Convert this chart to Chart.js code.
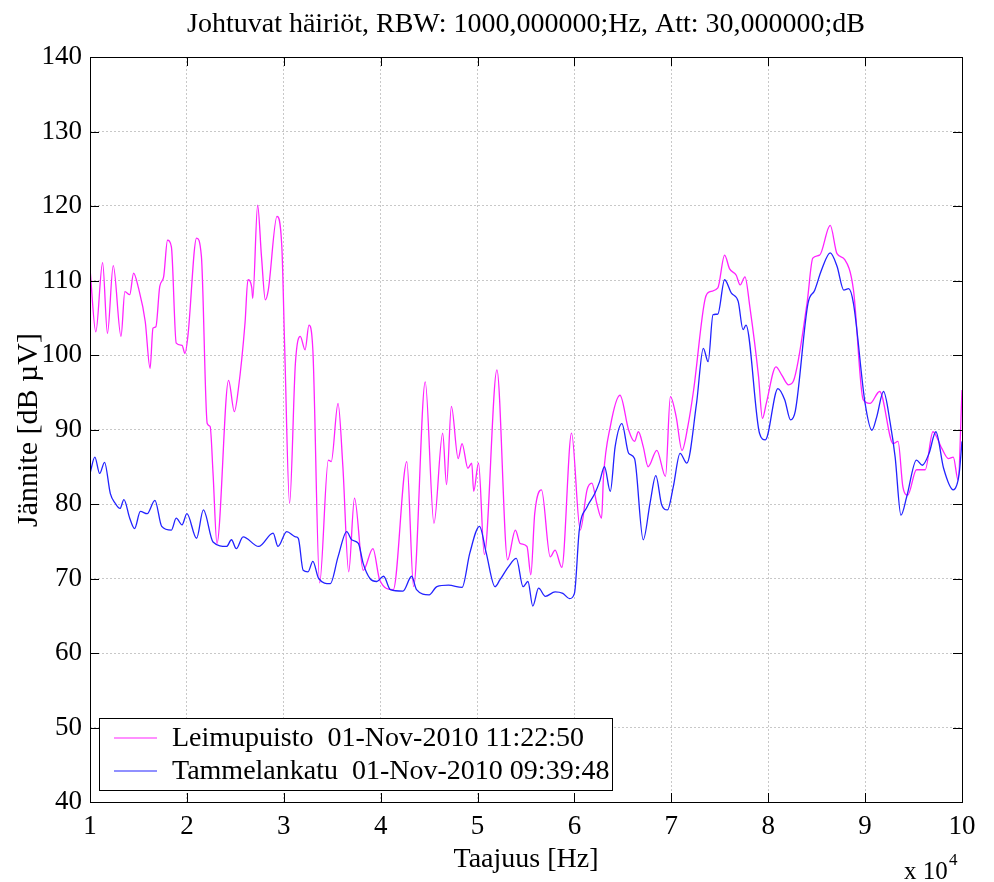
<!DOCTYPE html>
<html>
<head>
<meta charset="utf-8">
<script src="https://cdn.jsdelivr.net/npm/chart.js@4.4.1/dist/chart.umd.min.js"></script>
<style>
  html, body { margin: 0; padding: 0; background: #fff; }
  #wrap { width: 994px; height: 882px; position: relative; }
</style>
</head>
<body>
<div id="wrap"><canvas id="chart"></canvas></div>
<script>
// Frequencies in kHz (axis shows units of 10^4 Hz), levels in dB µV
const leimuFreq = [10.0, 10.6, 11.3, 11.8, 12.4, 13.2, 13.6, 14.1, 14.5, 15.0, 15.7, 16.2, 16.5, 16.8, 17.2, 17.6, 18.0, 18.4, 18.9, 19.5,
  19.8, 20.1, 21.0, 21.5, 22.1, 22.4, 22.7, 23.1, 24.3, 24.9, 25.3, 26.0, 26.3, 26.7, 26.8, 27.3, 27.7, 28.1, 28.4, 29.3,
  29.8, 30.1, 30.6, 31.2, 31.7, 32.2, 32.6, 33.0, 33.7, 34.6, 34.9, 35.6, 36.1, 36.7, 37.3, 38.2, 39.2, 39.9, 41.3, 42.7,
  43.4, 44.6, 45.5, 46.4, 46.8, 47.3, 48.0, 48.4, 49.0, 49.4, 49.6, 50.1, 50.7, 52.0, 53.1, 53.9, 54.4, 55.1, 55.5, 55.9,
  56.6, 57.5, 58.0, 58.7, 59.7, 60.6, 61.3, 61.8, 62.3, 62.8, 63.0, 63.7, 64.7, 65.6, 66.2, 66.6, 67.1, 67.6, 68.5, 69.4,
  69.9, 70.5, 71.1, 71.7, 72.3, 73.5, 74.0, 74.8, 75.5, 76.0, 76.7, 77.1, 77.6, 78.1, 79.0, 79.4, 79.8, 80.8, 81.4, 82.1,
  82.6, 84.0, 84.6, 85.3, 86.4, 87.1, 87.9, 88.8, 89.8, 90.5, 91.5, 92.9, 93.4, 93.9, 94.4, 95.3, 96.2, 97.0, 97.9, 98.6,
  99.1, 99.6, 100.0];
const leimuLevel = [111.6, 103.1, 112.4, 102.9, 112.0, 102.5, 108.5, 108.1, 111.0, 109.0, 104.5, 98.2, 103.6, 103.8, 109.2, 110.5, 115.4, 114.5, 101.6, 101.3,
  100.2, 102.5, 115.7, 113.2, 90.8, 90.4, 84.1, 74.7, 96.6, 92.4, 95.3, 104.3, 110.1, 109.0, 107.6, 120.1, 113.2, 107.4, 108.7, 118.6,
  114.5, 100.7, 80.1, 98.9, 102.5, 100.7, 104.0, 100.7, 69.4, 85.9, 85.7, 93.5, 85.0, 70.9, 80.8, 71.1, 74.0, 69.8, 68.5, 85.7,
  68.9, 96.4, 77.4, 89.5, 82.6, 93.1, 86.1, 88.1, 84.8, 85.5, 81.7, 85.5, 73.2, 98.0, 72.5, 76.5, 74.7, 74.3, 70.5, 78.7,
  81.9, 72.9, 73.8, 71.5, 89.5, 76.5, 81.9, 82.8, 80.1, 78.1, 83.7, 90.4, 94.6, 89.9, 88.4, 89.7, 87.7, 85.0, 87.2, 83.7,
  94.4, 91.7, 87.2, 90.4, 95.3, 107.6, 108.5, 109.0, 113.4, 111.6, 110.7, 109.4, 110.5, 106.5, 97.1, 91.5, 93.5, 98.4, 97.3, 96.0,
  96.5, 106.9, 113.0, 113.4, 117.4, 113.6, 112.8, 108.7, 94.0, 93.5, 95.1, 88.1, 88.4, 82.3, 81.2, 84.6, 84.6, 89.7, 87.5, 86.1,
  86.3, 83.2, 95.3];

const tammeFreq = [10.0, 10.5, 11.0, 11.5, 12.1, 12.6, 13.1, 13.5, 14.1, 14.6, 15.2, 15.9, 16.7, 17.4, 18.4, 18.9, 19.5, 20.0, 21.0, 21.7,
  22.7, 24.1, 24.6, 25.1, 25.8, 27.4, 28.9, 29.4, 30.3, 31.2, 31.5, 32.0, 32.5, 33.0, 33.6, 34.8, 35.6, 36.5, 37.0, 37.7,
  38.2, 38.9, 39.6, 40.3, 41.0, 42.3, 43.2, 43.7, 45.0, 45.8, 47.0, 48.4, 49.2, 50.2, 50.9, 51.8, 52.3, 53.2, 54.0, 54.7,
  55.2, 55.7, 56.3, 57.0, 58.0, 58.8, 59.5, 60.0, 60.5, 61.3, 62.1, 62.6, 63.1, 63.7, 64.2, 64.9, 65.6, 66.2, 67.1, 67.8,
  68.4, 69.0, 69.6, 70.2, 70.9, 71.6, 72.6, 73.3, 73.8, 74.3, 74.8, 75.5, 76.2, 76.9, 77.4, 77.7, 79.1, 79.7, 81.0, 81.7,
  82.3, 82.8, 84.1, 84.8, 85.5, 86.4, 87.1, 87.8, 88.3, 88.8, 90.0, 90.7, 91.2, 91.9, 92.6, 93.1, 93.7, 94.3, 95.3, 95.9,
  96.6, 97.3, 98.1, 99.1, 99.7, 100.0];
const tammeLevel = [84.1, 86.3, 84.1, 85.6, 81.4, 80.1, 79.4, 80.6, 78.1, 76.7, 79.0, 78.7, 80.5, 77.0, 76.5, 78.1, 77.2, 78.7, 75.4, 79.2,
  74.9, 74.3, 75.2, 74.0, 75.6, 74.3, 76.1, 74.3, 76.3, 75.6, 75.4, 71.1, 70.9, 72.3, 70.0, 69.3, 72.9, 76.3, 75.2, 74.7,
  72.0, 70.0, 69.6, 70.3, 68.5, 68.3, 70.3, 68.5, 67.8, 68.9, 69.1, 68.8, 73.4, 77.0, 73.4, 68.9, 69.8, 71.6, 72.7, 68.9,
  69.6, 66.3, 68.7, 67.6, 68.2, 68.0, 67.3, 68.0, 76.5, 79.6, 81.4, 83.0, 85.0, 81.7, 87.7, 90.8, 86.8, 86.1, 75.2, 80.1,
  83.8, 79.9, 79.2, 82.3, 86.8, 85.5, 93.5, 100.9, 99.1, 105.4, 105.5, 110.1, 108.3, 107.2, 103.4, 104.0, 89.5, 88.6, 95.5, 94.0,
  91.3, 92.5, 106.9, 108.7, 111.4, 113.7, 111.9, 108.7, 108.9, 106.9, 93.5, 89.9, 91.7, 95.1, 90.8, 86.3, 78.5, 81.0, 85.9, 85.2,
  86.8, 89.7, 84.8, 81.9, 84.0, 88.4];

const xTicks = [10, 20, 30, 40, 50, 60, 70, 80, 90, 100];
const yTicks = [40, 50, 60, 70, 80, 90, 100, 110, 120, 130, 140];

const serif = '"Liberation Serif", "Times New Roman", serif';

function toPoints(xs, ys) {
  return xs.map((x, i) => ({ x: x, y: ys[i] }));
}

// Box, inward ticks, titles and legend drawn on top, MATLAB style
const matlabFrame = {
  id: 'matlabFrame',
  afterDraw(chart) {
    const { ctx, chartArea: a, scales } = chart;
    ctx.save();
    ctx.strokeStyle = '#000';
    ctx.lineWidth = 1;
    ctx.strokeRect(a.left + 0.5, a.top + 0.5, a.right - a.left, a.bottom - a.top);

    const tl = 9;
    ctx.beginPath();
    xTicks.forEach(v => {
      const px = Math.round(scales.x.getPixelForValue(v)) + 0.5;
      ctx.moveTo(px, a.bottom); ctx.lineTo(px, a.bottom - tl);
      ctx.moveTo(px, a.top); ctx.lineTo(px, a.top + tl);
    });
    yTicks.forEach(v => {
      const py = Math.round(scales.y.getPixelForValue(v)) + 0.5;
      ctx.moveTo(a.left, py); ctx.lineTo(a.left + tl, py);
      ctx.moveTo(a.right, py); ctx.lineTo(a.right - tl, py);
    });
    ctx.stroke();

    ctx.fillStyle = '#000';
    ctx.textAlign = 'center';
    ctx.textBaseline = 'alphabetic';
    ctx.font = '28px ' + serif;
    ctx.fillText('Johtuvat häiriöt, RBW: 1000,000000;Hz, Att: 30,000000;dB', (a.left + a.right) / 2, 32);

    ctx.fillText('Taajuus [Hz]', (a.left + a.right) / 2, 867);

    ctx.save();
    ctx.translate(37, 430);
    ctx.rotate(-Math.PI / 2);
    ctx.font = '30px ' + serif;
    ctx.fillText('Jännite [dB µV]', 0, 0);
    ctx.restore();

    ctx.textAlign = 'left';
    ctx.font = '25px ' + serif;
    ctx.fillText('x 10', 904, 879);
    ctx.font = '17px ' + serif;
    ctx.fillText('4', 949, 865);

    // legend box
    const lx = 99, ly = 718, lw = 513, lh = 72;
    ctx.fillStyle = '#fff';
    ctx.fillRect(lx, ly, lw, lh);
    ctx.strokeStyle = '#000';
    ctx.lineWidth = 1;
    ctx.strokeRect(lx + 0.5, ly + 0.5, lw, lh);
    ctx.font = '28px ' + serif;
    chart.data.datasets.forEach((ds, i) => {
      const cy = 738 + i * 33;
      ctx.strokeStyle = ds.borderColor;
      ctx.lineWidth = 1.2;
      ctx.beginPath();
      ctx.moveTo(114, cy); ctx.lineTo(157, cy);
      ctx.stroke();
      ctx.fillStyle = '#000';
      ctx.textBaseline = 'middle';
      ctx.fillText(ds.label, 172, cy + 1);
    });
    ctx.restore();
  }
};

new Chart(document.getElementById('chart'), {
  type: 'line',
  data: {
    datasets: [
      {
        label: 'Leimupuisto  01-Nov-2010 11:22:50',
        data: toPoints(leimuFreq, leimuLevel),
        borderColor: '#ff22ff',
        borderWidth: 1.3,
        pointRadius: 0,
        cubicInterpolationMode: 'monotone',
        order: 1
      },
      {
        label: 'Tammelankatu  01-Nov-2010 09:39:48',
        data: toPoints(tammeFreq, tammeLevel),
        borderColor: '#2222ff',
        borderWidth: 1.3,
        pointRadius: 0,
        cubicInterpolationMode: 'monotone',
        order: 0
      }
    ]
  },
  options: {
    responsive: true,
    maintainAspectRatio: false,
    animation: false,
    layout: { padding: { left: 0, right: 32, top: 57, bottom: 0 } },
    plugins: {
      legend: { display: false },
      title: { display: false },
      tooltip: { enabled: false }
    },
    scales: {
      x: {
        type: 'linear',
        min: 10,
        max: 100,
        afterFit: s => { s.height = 80; },
        afterBuildTicks: s => { s.ticks = xTicks.map(v => ({ value: v })); },
        ticks: {
          color: '#000',
          padding: 9,
          maxRotation: 0,
          font: { family: serif, size: 27 },
          callback: v => String(v / 10)
        },
        grid: { color: '#c8c8c8', drawTicks: false },
        border: { display: false, dash: [2, 2] }
      },
      y: {
        min: 40,
        max: 140,
        afterFit: s => { s.width = 90; },
        afterBuildTicks: s => { s.ticks = yTicks.map(v => ({ value: v })); },
        ticks: {
          color: '#000',
          padding: 8,
          font: { family: serif, size: 27 }
        },
        grid: { color: '#c8c8c8', drawTicks: false },
        border: { display: false, dash: [2, 2] }
      }
    }
  },
  plugins: [matlabFrame]
});
</script>
</body>
</html>
